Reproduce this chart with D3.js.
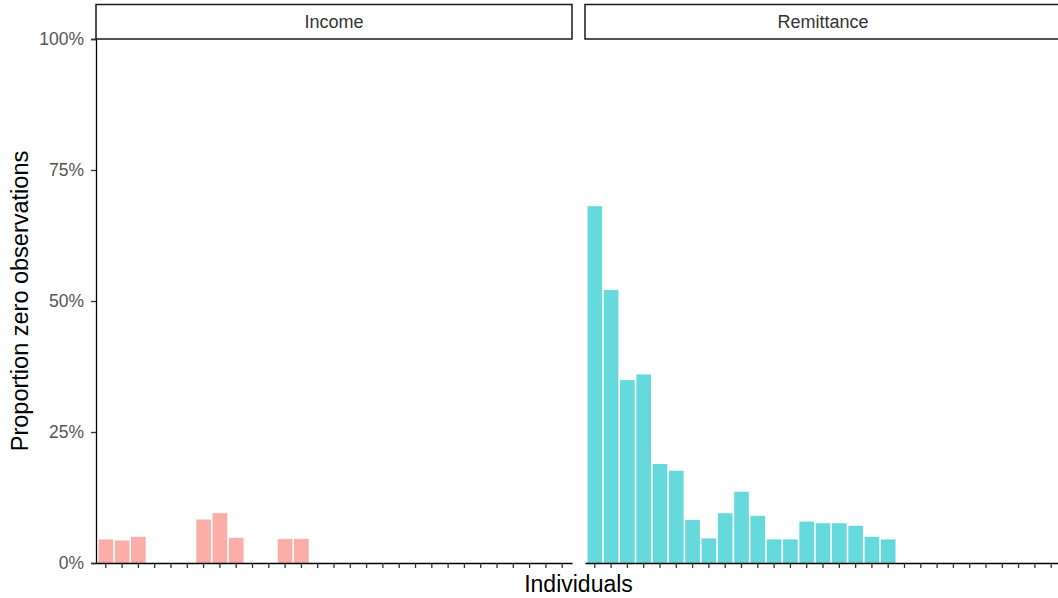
<!DOCTYPE html>
<html>
<head>
<meta charset="utf-8">
<script src="https://cdn.jsdelivr.net/npm/d3@7.9.0/dist/d3.min.js"></script>
<style>
  body { margin: 0; background: #fff; }
  svg { font-family: "Liberation Sans", Arial, sans-serif; }
</style>
</head>
<body>
<svg id="chart" width="1058" height="598"></svg>
<script>
// individuals on the x axis (labels are hidden in the original)
const individuals = d3.range(1, 30).map(String);

const panels = ['Income', 'Remittance'];

// share of zero observations per individual
const incomeZero = [0.045, 0.043, 0.050, 0, 0, 0, 0.083, 0.095, 0.048, 0, 0, 0.046, 0.046,
  0, 0, 0, 0, 0, 0, 0, 0, 0, 0, 0, 0, 0, 0, 0, 0];
const remittanceZero = [0.681, 0.521, 0.349, 0.360, 0.189, 0.176, 0.082, 0.047, 0.095, 0.136,
  0.090, 0.045, 0.045, 0.079, 0.076, 0.076, 0.071, 0.050, 0.045,
  0, 0, 0, 0, 0, 0, 0, 0, 0, 0];

const yTicks = [0, 0.25, 0.5, 0.75, 1];

const colors = { Income: '#F8766D', Remittance: '#00BFC4' };
const seriesValues = { Income: incomeZero, Remittance: remittanceZero };

const svg = d3.select('#chart');

const panelW = 476, gap = 13;
const plotLeft = 96, plotTop = 39, plotBottom = 563;

let x = d3.scaleBand()
  .domain(individuals)
  .range([0, panelW])
  .paddingInner(0.1)
  .paddingOuter(0.15);

let y = d3.scaleLinear().domain([0, 1]).range([plotBottom, plotTop]);

// y axis
let yAxis = svg.append('g')
  .attr('transform', `translate(${plotLeft},0)`)
  .call(d3.axisLeft(y).tickValues(yTicks).tickFormat(d3.format('.0%')).tickSize(5).tickPadding(7));
yAxis.select('.domain').attr('stroke', '#000').attr('stroke-width', 1.3);
yAxis.selectAll('.tick line').attr('stroke', '#333').attr('stroke-width', 1.3);
yAxis.selectAll('.tick text').attr('fill', '#555').attr('font-size', 17.5)
  .attr('font-family', '"Liberation Sans", Arial, sans-serif');

panels.forEach((name, pi) => {
  const ox = plotLeft + pi * (panelW + gap);
  const g = svg.append('g').attr('transform', `translate(${ox},0)`);

  // strip
  g.append('rect')
    .attr('x', 0).attr('y', 4.5)
    .attr('width', panelW).attr('height', plotTop - 4.5)
    .attr('fill', '#fff').attr('stroke', '#1a1a1a').attr('stroke-width', 1.5);
  g.append('text')
    .attr('x', panelW / 2).attr('y', 28)
    .attr('text-anchor', 'middle')
    .attr('font-size', 18).attr('fill', '#333')
    .text(name);

  // bars
  const data = individuals.map((id, i) => ({ id, value: seriesValues[name][i] }))
    .filter(d => d.value > 0);
  g.selectAll('rect.bar')
    .data(data)
    .join('rect')
    .attr('class', 'bar')
    .attr('x', d => x(d.id))
    .attr('width', x.bandwidth())
    .attr('y', d => y(d.value))
    .attr('height', d => y(0) - y(d.value))
    .attr('fill', colors[name])
    .attr('fill-opacity', 0.6);

  // x axis, ticks only
  let xAxis = g.append('g')
    .attr('transform', `translate(0,${plotBottom})`)
    .call(d3.axisBottom(x).tickSize(5).tickSizeOuter(0).tickFormat(''));
  xAxis.select('.domain').attr('stroke', '#000').attr('stroke-width', 1.3);
  xAxis.selectAll('.tick line').attr('stroke', '#333').attr('stroke-width', 1.3);
});

// axis titles
svg.append('text')
  .attr('x', plotLeft + panelW + gap / 2)
  .attr('y', 592)
  .attr('text-anchor', 'middle')
  .attr('font-size', 23).attr('fill', '#000')
  .text('Individuals');

svg.append('text')
  .attr('transform', `translate(28,${(plotTop + plotBottom) / 2}) rotate(-90)`)
  .attr('text-anchor', 'middle')
  .attr('font-size', 23.5).attr('fill', '#000')
  .text('Proportion zero observations');
</script>
</body>
</html>
